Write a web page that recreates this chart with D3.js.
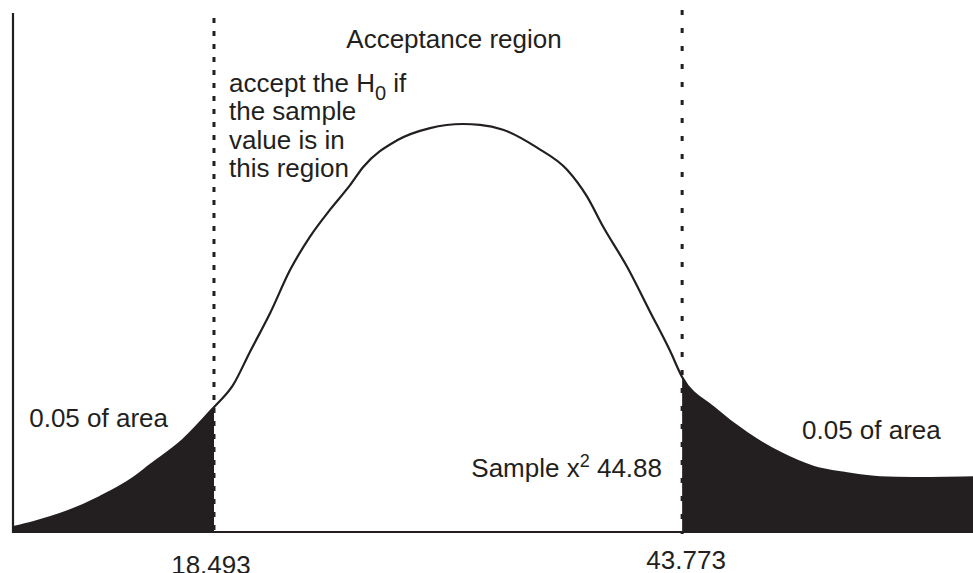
<!DOCTYPE html>
<html>
<head>
<meta charset="utf-8">
<script src="https://cdn.jsdelivr.net/npm/d3@7"></script>
<style>
  html, body { margin: 0; padding: 0; background: #ffffff; }
  svg { display: block; }
  text { font-family: "Liberation Sans", Arial, sans-serif; fill: #231f20; }
</style>
</head>
<body>
<svg id="chart" width="973" height="573"></svg>
<script>
// chi-square values along the curve
const chiValues = [7.64, 8.72, 10.55, 12.34, 14.12, 15.04, 16.82, 18.49, 19.52, 20.44,
  21.52, 22.60, 23.68, 24.76, 25.84, 26.54, 28.38, 30.16, 31.94, 32.86,
  34.10, 35.94, 37.56, 38.64, 39.51, 40.80, 42.04, 43.12, 43.77, 45.45,
  47.28, 49.07, 50.85, 52.68, 54.46, 56.24, 59.48];
// density at each value
const densityValues = [0.0006, 0.0012, 0.0025, 0.0043, 0.0066, 0.0082, 0.0113, 0.0153, 0.0180, 0.0221,
  0.0268, 0.0321, 0.0362, 0.0395, 0.0425, 0.0447, 0.0480, 0.0495, 0.0500, 0.0499,
  0.0493, 0.0471, 0.0444, 0.0411, 0.0374, 0.0325, 0.0270, 0.0222, 0.0190, 0.0153,
  0.0121, 0.0097, 0.0080, 0.0072, 0.0067, 0.0066, 0.0067];
// critical values (tick labels)
const criticalValues = [18.493, 43.773];
const criticalLabels = ["18.493", "43.773"];
const tailLabels = ["0.05 of area", "0.05 of area"];
const regionTitle = "Acceptance region";
const noteLines = ["accept the H", "the sample", "value is in", "this region"];
const sampleValue = "44.88";

const data = chiValues.map((v, i) => ({ x: v, y: densityValues[i] }));

const ink = "#231f20";
const svg = d3.select("#chart");

const x = d3.scaleLinear().domain([7.64, 59.48]).range([13, 973]);
const y = d3.scaleLinear().domain([0, 0.05]).range([532, 124]);

const curve = d3.curveMonotoneX;

// clip paths for tails
const defs = svg.append("defs");
defs.append("clipPath").attr("id", "leftTail")
  .append("rect")
  .attr("x", x(d3.min(chiValues)) - 2).attr("y", 0)
  .attr("width", x(criticalValues[0]) - x(d3.min(chiValues)) + 2).attr("height", 573);
defs.append("clipPath").attr("id", "rightTail")
  .append("rect")
  .attr("x", x(criticalValues[1])).attr("y", 0)
  .attr("width", x(d3.max(chiValues)) - x(criticalValues[1]) + 2).attr("height", 573);

const area = d3.area().x(d => x(d.x)).y0(y(0)).y1(d => y(d.y)).curve(curve);
svg.append("path").datum(data).attr("d", area).attr("fill", ink).attr("clip-path", "url(#leftTail)");
svg.append("path").datum(data).attr("d", area).attr("fill", ink).attr("clip-path", "url(#rightTail)");

// curve
const line = d3.line().x(d => x(d.x)).y(d => y(d.y)).curve(curve);
svg.append("path").datum(data).attr("d", line)
  .attr("fill", "none").attr("stroke", ink).attr("stroke-width", 2.2);

// axes lines
svg.append("line").attr("x1", x(d3.min(chiValues))).attr("x2", x(d3.min(chiValues)))
  .attr("y1", 13).attr("y2", y(0) + 1).attr("stroke", ink).attr("stroke-width", 2.2);
svg.append("line").attr("x1", x(d3.min(chiValues))).attr("x2", x(d3.max(chiValues)))
  .attr("y1", y(0)).attr("y2", y(0)).attr("stroke", ink).attr("stroke-width", 2.2);

// dotted critical lines
const dashTops = [18, 10];
const dashArrays = ["5,8", "5,13"];
criticalValues.forEach((c, i) => {
  svg.append("line")
    .attr("x1", x(c)).attr("x2", x(c))
    .attr("y1", dashTops[i]).attr("y2", y(0) + 2)
    .attr("stroke", ink).attr("stroke-width", 3)
    .attr("stroke-dasharray", dashArrays[i]);
});

// tick labels
const labelBaselines = [574, 569];
const labelOffsets = [-3, 4];
criticalLabels.forEach((t, i) => {
  svg.append("text")
    .attr("x", x(criticalValues[i]) + labelOffsets[i]).attr("y", labelBaselines[i])
    .attr("text-anchor", "middle").attr("font-size", 26).text(t);
});

// title
svg.append("text").attr("x", 454).attr("y", 48)
  .attr("text-anchor", "middle").attr("font-size", 26).text(regionTitle);

// note block
const noteBase = [92, 120, 148.5, 177];
noteLines.forEach((l, i) => {
  const t = svg.append("text").attr("x", 229).attr("y", noteBase[i]).attr("font-size", 26);
  t.append("tspan").text(l);
  if (i === 0) {
    t.append("tspan").attr("font-size", 20).attr("dy", 8).text("0");
    t.append("tspan").attr("dy", -8).text(" if");
  }
});

// tail labels
svg.append("text").attr("x", 168).attr("y", 427)
  .attr("text-anchor", "end").attr("font-size", 26).text(tailLabels[0]);
svg.append("text").attr("x", 802).attr("y", 439)
  .attr("font-size", 26).text(tailLabels[1]);

// sample label
const s = svg.append("text").attr("x", 662).attr("y", 477)
  .attr("text-anchor", "end").attr("font-size", 26);
s.append("tspan").text("Sample x");
s.append("tspan").attr("font-size", 18).attr("dy", -10).text("2");
s.append("tspan").attr("dy", 10).text(" " + sampleValue);
</script>
</body>
</html>
